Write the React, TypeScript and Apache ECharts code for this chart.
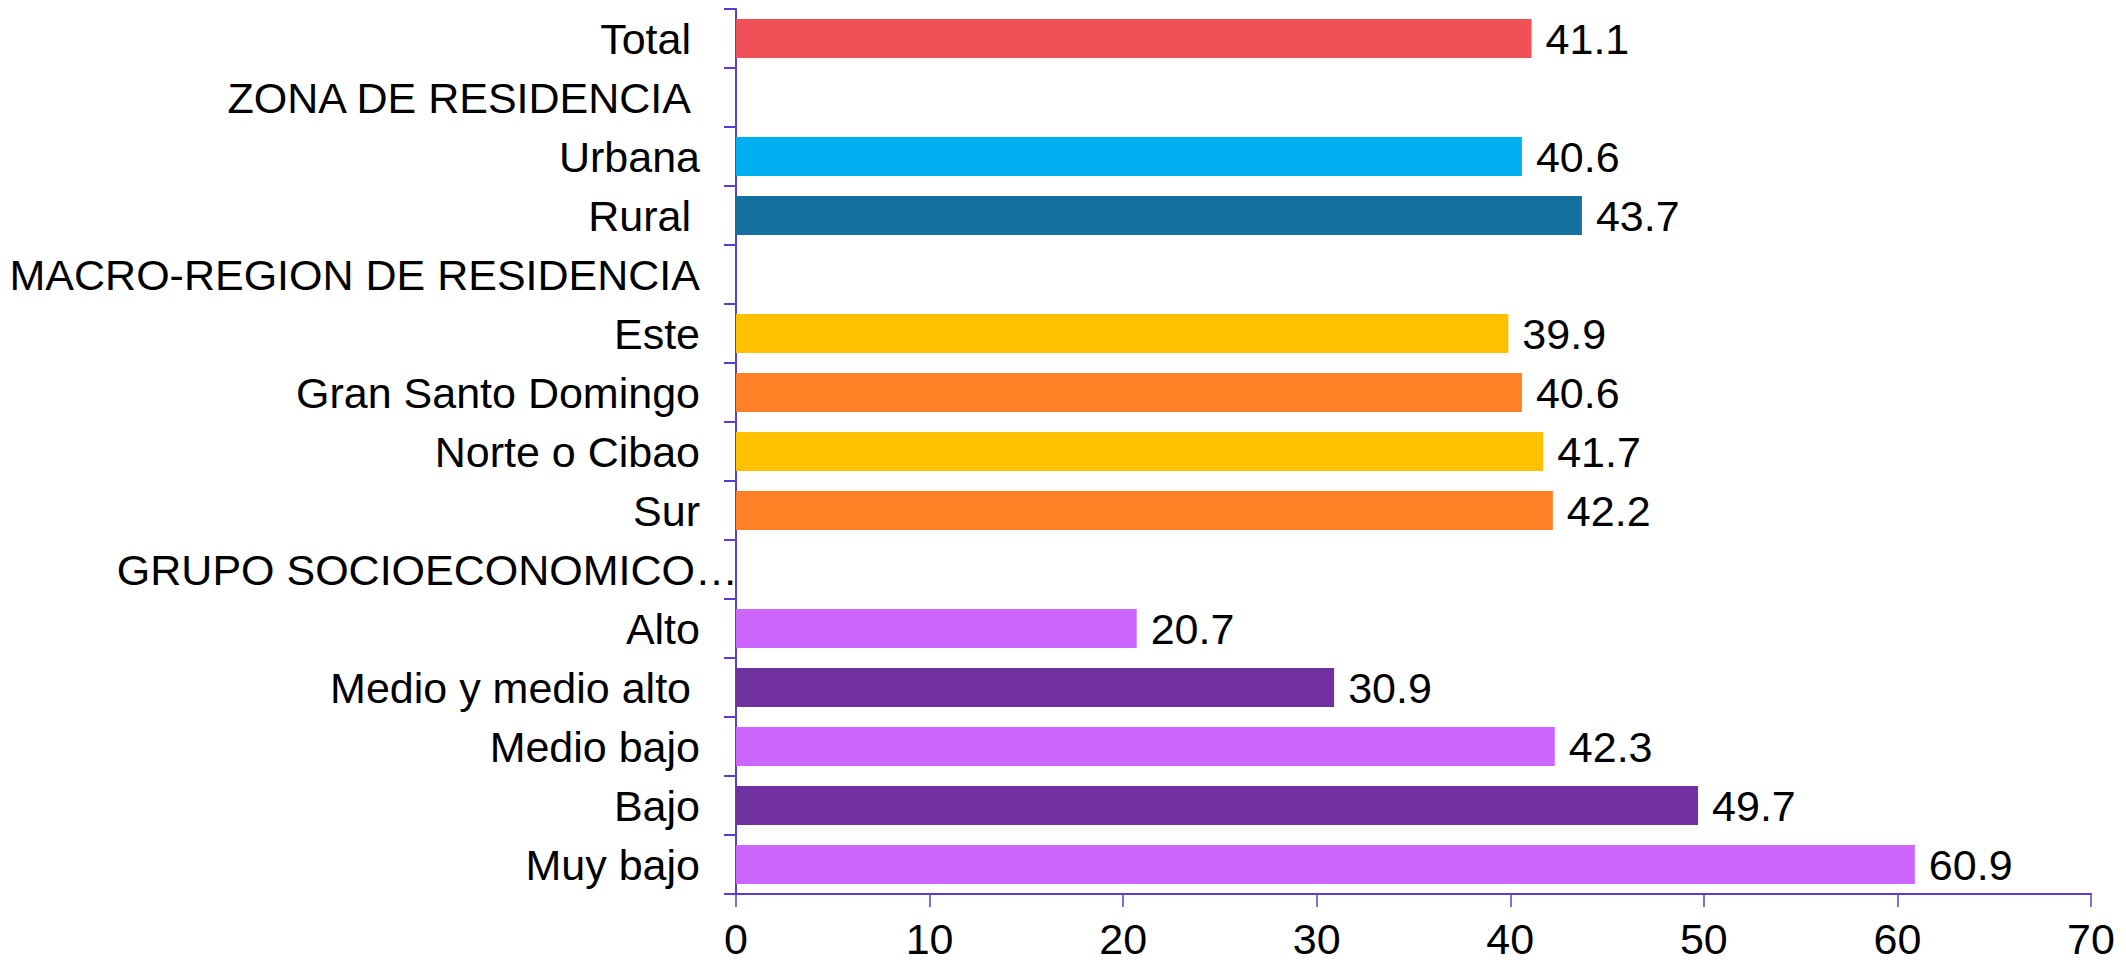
import React, { useEffect, useRef } from "react";
import * as echarts from "echarts";

const categories = [
  "Total ",
  "ZONA DE RESIDENCIA ",
  "Urbana",
  "Rural ",
  "MACRO-REGION DE RESIDENCIA",
  "Este",
  "Gran Santo Domingo",
  "Norte o Cibao",
  "Sur",
  "GRUPO SOCIOECONOMICO…",
  "Alto",
  "Medio y medio alto ",
  "Medio bajo",
  "Bajo",
  "Muy bajo",
];

const values: (number | null)[] = [
  41.1, null, 40.6, 43.7, null, 39.9, 40.6, 41.7, 42.2, null, 20.7, 30.9, 42.3, 49.7, 60.9,
];

const xTicks = [0, 10, 20, 30, 40, 50, 60, 70];

const barColors = [
  "#F05058", "#FFFFFF", "#00B0F0", "#1570A0", "#FFFFFF",
  "#FFC000", "#FF8025", "#FFC000", "#FF8025", "#FFFFFF",
  "#CC66FF", "#7030A0", "#CC66FF", "#7030A0", "#CC66FF",
];

export default function App() {
  const ref = useRef<HTMLDivElement>(null);
  useEffect(() => {
    document.body.style.margin = "0";
    const chart = echarts.init(ref.current!, null, { renderer: "svg" });
    const font = "'Liberation Sans', Arial, sans-serif";
    const axisColor = "#5A3CD2";
    const fs = 43;
    chart.setOption({
      animation: false,
      backgroundColor: "#FFFFFF",
      grid: { left: 736, right: 35, top: 9, bottom: 69, containLabel: false },
      xAxis: {
        type: "value",
        min: xTicks[0],
        max: xTicks[xTicks.length - 1],
        interval: 10,
        splitLine: { show: false },
        axisLine: { show: true, lineStyle: { color: axisColor, width: 2 } },
        axisTick: { show: true, length: 13, lineStyle: { color: axisColor, width: 1.5 } },
        axisLabel: {
          margin: 30,
          fontSize: fs,
          lineHeight: 30,
          color: "#000",
          fontFamily: font,
        },
      },
      yAxis: {
        type: "category",
        data: categories,
        inverse: true,
        axisLine: { show: true, lineStyle: { color: axisColor, width: 2 } },
        axisTick: { show: true, length: 12, alignWithLabel: false, lineStyle: { color: axisColor, width: 2 } },
        axisLabel: {
          margin: -2,
          interval: 0,
          fontSize: fs,
          color: "#000",
          fontFamily: font,
          formatter: (v: string) => {
            if (v.endsWith("…")) return `{g|${v}}`;
            if (v.endsWith(" ")) return `{b|${v.trimEnd()}}`;
            return `{a|${v}}`;
          },
          rich: {
            a: { fontSize: fs, fontFamily: font, color: "#000", padding: [0, 38, 0, 0] },
            b: { fontSize: fs, fontFamily: font, color: "#000", padding: [0, 47, 0, 0] },
            g: { fontSize: fs, fontFamily: font, color: "#000", padding: [0, 0, 0, 0] },
          },
        },
      },
      series: [
        {
          type: "bar",
          barCategoryGap: "34%",
          data: values.map((v, i) =>
            v === null ? null : { value: v, itemStyle: { color: barColors[i] } }
          ),
          label: {
            show: true,
            position: "right",
            distance: 14,
            fontSize: fs,
            color: "#000",
            fontFamily: font,
            formatter: (p: any) => Number(p.value).toFixed(1),
          },
        },
      ],
    });
    return () => chart.dispose();
  }, []);
  return <div ref={ref} style={{ width: 2126, height: 963 }} />;
}
